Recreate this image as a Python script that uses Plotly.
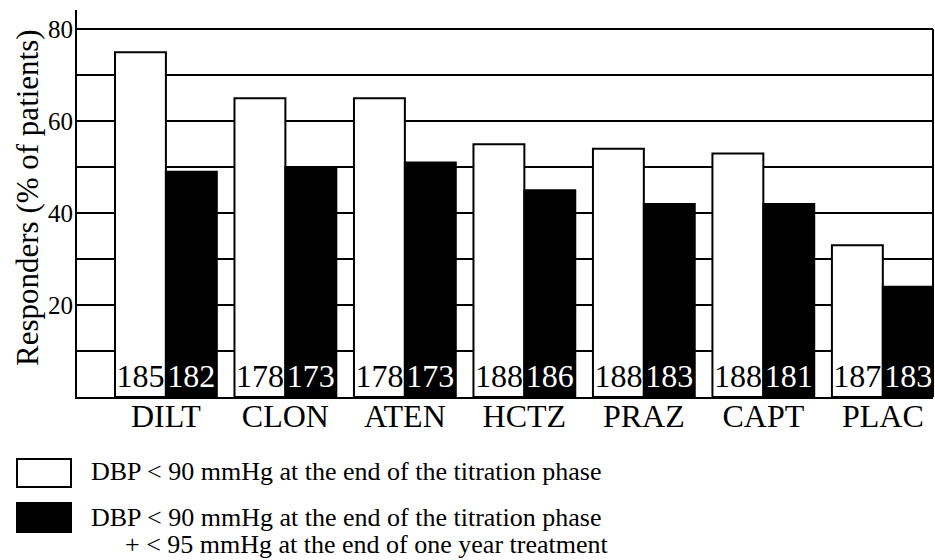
import plotly.graph_objects as go

# ---- data ----
categories = ["DILT", "CLON", "ATEN", "HCTZ", "PRAZ", "CAPT", "PLAC"]
titration_pct = [75, 65, 65, 55, 54, 53, 33]
one_year_pct = [49, 50, 51, 45, 42, 42, 24]
n_titration = [185, 178, 178, 188, 188, 188, 187]
n_one_year = [182, 173, 173, 186, 183, 181, 183]
y_tick_vals = [10, 20, 30, 40, 50, 60, 70, 80]
y_tick_text = ["", "20", "", "40", "", "60", "", "80"]
legend_labels = [
    "DBP < 90 mmHg at the end of the titration phase",
    "DBP < 90 mmHg at the end of the titration phase",
    "+ < 95 mmHg at the end of one year treatment",
]

FONT = "Liberation Serif, Times New Roman, serif"
W, H = 935, 560
L, R, T, B = 77, 2, 10, 163
PLOT_TOP, PLOT_BOT = T, H - B


def px_x(x):
    return (x - L) / (W - L - R)


def px_y(y):
    return (PLOT_BOT - y) / (PLOT_BOT - PLOT_TOP)


fig = go.Figure()
fig.add_trace(go.Bar(
    x=categories, y=titration_pct, name="titration",
    marker=dict(color="white", line=dict(color="black", width=2)),
    text=[str(v) for v in n_titration], textposition="inside",
    insidetextanchor="start", textangle=0, constraintext="none",
    textfont=dict(family=FONT, size=32, color="black"),
))
fig.add_trace(go.Bar(
    x=categories, y=one_year_pct, name="one year",
    marker=dict(color="black", line=dict(color="black", width=2)),
    text=[str(v) for v in n_one_year], textposition="inside",
    insidetextanchor="start", textangle=0, constraintext="none",
    textfont=dict(family=FONT, size=32, color="white"),
))

fig.update_layout(
    width=W, height=H,
    margin=dict(l=L, r=R, t=T, b=B, autoexpand=False),
    plot_bgcolor="white", paper_bgcolor="white",
    barmode="group", bargap=0.148, bargroupgap=0,
    showlegend=False,
    font=dict(family=FONT, color="black"),
)
fig.update_xaxes(
    range=[-0.744, 6.42], showline=True, linecolor="black", linewidth=2,
    showgrid=False, ticks="", ticklabelstandoff=-10,
    tickfont=dict(family=FONT, size=32, color="black"),
    fixedrange=True,
)
fig.update_yaxes(
    range=[0, 84.2], showline=True, linecolor="black", linewidth=2,
    showgrid=True, gridcolor="black", gridwidth=2, zeroline=False,
    tickvals=y_tick_vals, ticktext=y_tick_text, ticks="", ticklabelstandoff=-3,
    tickfont=dict(family=FONT, size=25, color="black"),
    fixedrange=True,
)

# y-axis title
fig.add_annotation(text="Responders (% of patients)", xref="paper", yref="paper",
                   x=px_x(27), y=px_y(198), xanchor="center", yanchor="middle",
                   textangle=-90, showarrow=False,
                   font=dict(family=FONT, size=31, color="black"))

# right border from 0 to 80
fig.add_shape(type="line", xref="paper", yref="y", x0=1, x1=1, y0=0, y1=80,
              line=dict(color="black", width=2))

# custom legend
fig.add_shape(type="rect", xref="paper", yref="paper",
              x0=px_x(17), x1=px_x(71), y0=px_y(459), y1=px_y(487),
              line=dict(color="black", width=2), fillcolor="white")
fig.add_shape(type="rect", xref="paper", yref="paper",
              x0=px_x(17), x1=px_x(71), y0=px_y(503), y1=px_y(532),
              line=dict(color="black", width=2), fillcolor="black")
for txt, xp, yp in [(legend_labels[0], 89, 472),
                    (legend_labels[1], 89, 517),
                    (legend_labels[2], 123, 544)]:
    fig.add_annotation(text=txt, xref="paper", yref="paper",
                       x=px_x(xp), y=px_y(yp), xanchor="left", yanchor="middle",
                       showarrow=False,
                       font=dict(family=FONT, size=26, color="black"))

fig.write_html("out.html", config={"displayModeBar": False},
               post_script="document.body.style.margin='0';document.body.style.padding='0';")
